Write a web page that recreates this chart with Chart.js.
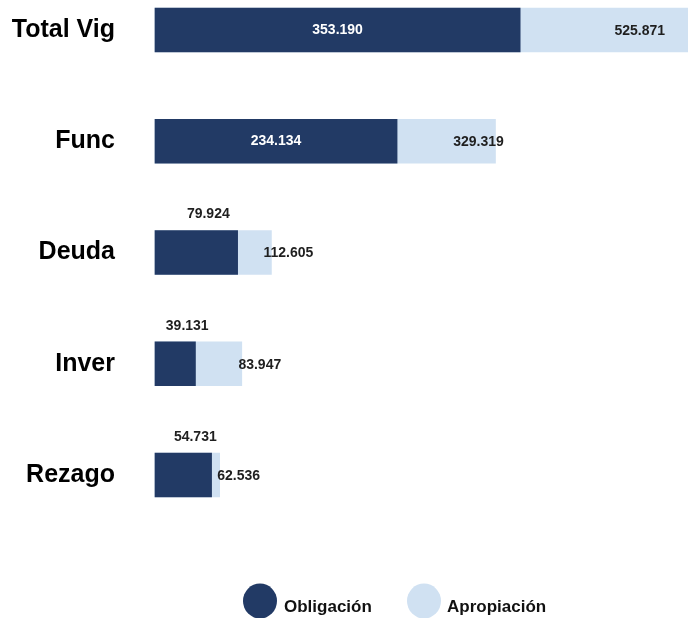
<!DOCTYPE html>
<html>
<head>
<meta charset="utf-8">
<script src="https://cdn.jsdelivr.net/npm/chart.js@4.4.1/dist/chart.umd.min.js"></script>
<style>
  html, body { margin: 0; padding: 0; background: #ffffff; }
  #wrap { position: relative; width: 688px; height: 618px; }
</style>
</head>
<body>
<div id="wrap"><canvas id="c"></canvas></div>
<script>
// ---- Data ----
const categories = ['Total Vig', 'Func', 'Deuda', 'Inver', 'Rezago'];
const obligacion = [353.190, 234.134, 79.924, 39.131, 54.731];
const apropiacion = [525.871, 329.319, 112.605, 83.947, 62.536];
const seriesNames = ['Obligación', 'Apropiación'];

// ---- Style ----
const colorDark = '#223a65';
const colorLight = '#d0e1f2';
const apropLabelShift = [-59, -17, 17, 18, 19]; // label centre offset from bar end (px)
const fmt = v => v.toFixed(3);

const valueLabels = {
  id: 'valueLabels',
  afterDatasetsDraw(chart) {
    const ctx = chart.ctx;
    const xs = chart.scales.x;
    ctx.save();
    ctx.font = 'bold 14px "Liberation Sans", Arial, sans-serif';
    ctx.textBaseline = 'middle';
    ctx.textAlign = 'center';
    chart.getDatasetMeta(0).data.forEach((bar, i) => {
      const v = obligacion[i];
      const x0 = xs.getPixelForValue(0), x1 = xs.getPixelForValue(v);
      const cx = (x0 + x1) / 2;
      if (v > 150) {
        ctx.fillStyle = '#ffffff';
        ctx.fillText(fmt(v), cx, bar.y);
      } else {
        ctx.fillStyle = '#1f1f1f';
        ctx.fillText(fmt(v), cx + 12, bar.y - 38);
      }
    });
    chart.getDatasetMeta(1).data.forEach((bar, i) => {
      const v = apropiacion[i];
      const xe = xs.getPixelForValue(v);
      ctx.fillStyle = '#1f1f1f';
      ctx.fillText(fmt(v), xe + apropLabelShift[i], bar.y + 1);
    });
    ctx.restore();
  }
};

const customLegend = {
  id: 'customLegend',
  afterDraw(chart) {
    const ctx = chart.ctx;
    ctx.save();
    const items = [
      { cx: 260, tx: 284 },
      { cx: 424, tx: 447 }
    ];
    chart.data.datasets.forEach((ds, i) => {
      const it = items[i];
      ctx.fillStyle = ds.backgroundColor;
      ctx.beginPath();
      ctx.ellipse(it.cx, 601, 17, 17.5, 0, 0, Math.PI * 2);
      ctx.fill();
      ctx.fillStyle = '#111111';
      ctx.font = 'bold 17px "Liberation Sans", Arial, sans-serif';
      ctx.textAlign = 'left';
      ctx.textBaseline = 'middle';
      ctx.fillText(ds.label, it.tx, 607);
    });
    ctx.restore();
  }
};

new Chart(document.getElementById('c'), {
  type: 'bar',
  data: {
    labels: categories,
    datasets: [
      { label: seriesNames[0], data: obligacion, backgroundColor: colorDark, grouped: false, barThickness: 44, clip: false },
      { label: seriesNames[1], data: apropiacion, backgroundColor: colorLight, grouped: false, barThickness: 44, clip: false }
    ]
  },
  options: {
    indexAxis: 'y',
    responsive: true,
    maintainAspectRatio: false,
    animation: false,
    layout: { padding: { top: 30, bottom: 143, left: 0, right: 0 } },
    plugins: { legend: { display: false }, tooltip: { enabled: false } },
    scales: {
      x: { display: false, min: 0, max: 515.5 },
      y: {
        offset: false,
        grid: { display: false },
        border: { display: false },
        ticks: {
          padding: 32,
          color: '#000000',
          font: { family: '"Liberation Sans", Arial, sans-serif', size: 25, weight: 'bold' }
        },
        afterFit(scale) { scale.width = 155; scale.paddingTop = 0; scale.paddingBottom = 0; }
      }
    }
  },
  plugins: [valueLabels, customLegend]
});
</script>
</body>
</html>
